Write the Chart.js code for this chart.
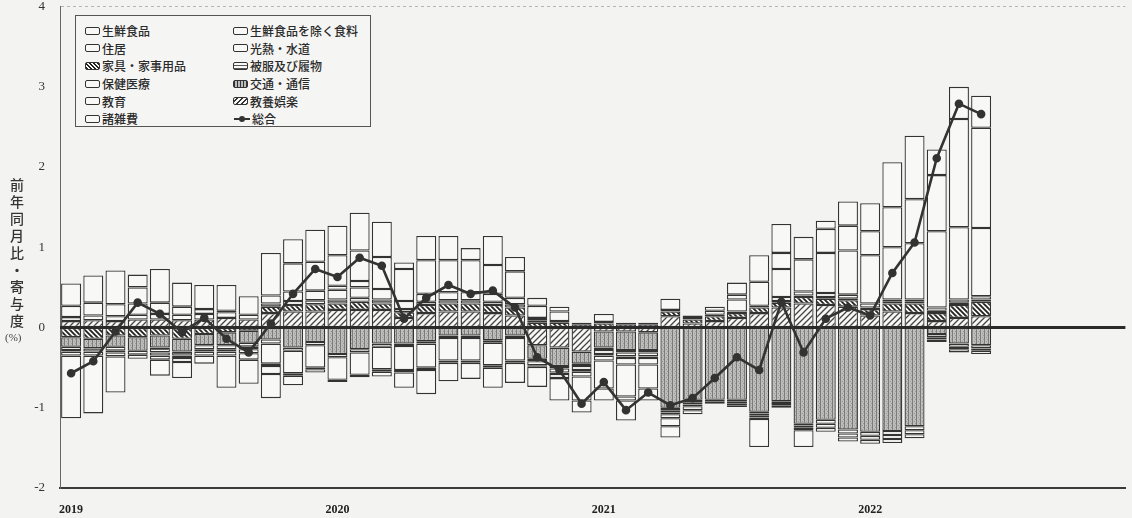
<!DOCTYPE html>
<html lang="ja">
<head>
<meta charset="UTF-8">
<title>消費者物価指数 前年同月比・寄与度</title>
<script src="https://cdn.jsdelivr.net/npm/chart.js@4"></script>
<style>
  body { margin: 0; background: #f3f3f1; }
  #wrap { position: relative; width: 1132px; height: 518px; }
  #ytitle { position: absolute; left: 7px; top: 178px; writing-mode: vertical-rl; font: 500 14px 'Noto Sans CJK JP'; letter-spacing: 3px; color: #333; }
  #yunit { position: absolute; left: 5px; top: 331px; font: 11px 'Liberation Serif'; color: #444; }
  #legend { position: absolute; left: 75px; top: 15px; width: 296px; height: 112px; border: 1px solid #555; background: #f5f5f3;
            display: grid; grid-template-columns: 148px 148px; grid-auto-rows: 17.6px; padding-top: 6px; box-sizing: border-box; }
  .item { display: flex; align-items: center; padding-left: 9px; font: 500 12px 'Noto Sans CJK JP'; color: #2a2a2a; }
  .sw { width: 13px; height: 6px; border: 1.5px solid #333; border-radius: 2px; margin-right: 2px; background: #f8f8f6; }
  .diag { background: repeating-linear-gradient(-45deg, #333 0 1.2px, #f8f8f6 1.2px 3.5px); }
  .back { background: repeating-linear-gradient(45deg, #222 0 1.6px, #f8f8f6 1.6px 3px); }
  .horiz { background: repeating-linear-gradient(0deg, #555 0 1px, #f8f8f6 1px 3px); }
  .vert { background: repeating-linear-gradient(90deg, #333 0 1px, #bbb 1px 3px); }
  .ln { width: 16px; height: 2px; background: #333; position: relative; margin-right: 2px; margin-left: 1px; }
  .ln::after { content: ''; position: absolute; left: 5px; top: -2px; width: 6px; height: 6px; border-radius: 50%; background: #333; }
</style>
</head>
<body>
<div id="wrap">
  <canvas id="c" width="1132" height="518"></canvas>
  <div id="ytitle">前年同月比・寄与度</div>
  <div id="yunit">(%)</div>
  <div id="legend">
    <div class="item"><span class="sw"></span>生鮮食品</div>
    <div class="item"><span class="sw"></span>生鮮食品を除く食料</div>
    <div class="item"><span class="sw"></span>住居</div>
    <div class="item"><span class="sw"></span>光熱・水道</div>
    <div class="item"><span class="sw back"></span>家具・家事用品</div>
    <div class="item"><span class="sw horiz"></span>被服及び履物</div>
    <div class="item"><span class="sw"></span>保健医療</div>
    <div class="item"><span class="sw vert"></span>交通・通信</div>
    <div class="item"><span class="sw"></span>教育</div>
    <div class="item"><span class="sw diag"></span>教養娯楽</div>
    <div class="item"><span class="sw"></span>諸雑費</div>
    <div class="item"><span class="ln"></span>総合</div>
  </div>
</div>
<script>
const years = ['2019', '2020', '2021', '2022'];
const yTicks = [-2, -1, 0, 1, 2, 3, 4];

// 寄与度 (2019/1 - 2022/6)
const kyoyo = [.08,.09,.08,.10,.10,.09,.10,.12,.10, .18,.20,.20,.22,.22,.22,.12,.18,.20,.20,.18,.15, -.22,-.25,-.30,-.05,-.05,-.06,.14,.05,.08,.12,.18, .25,.30,.28,.26,.15,.20,.18,.08,.12,.14];
const kagu = [-.12,-.14,-.10,-.12,-.10,-.14,-.08,-.06,-.04, .08,.08,.09,.08,.10,.08,.07,.10,.10,.10,.10,.10, .06,.06,.04,.05,.04,.04,.06,.05,.06,.06,.07, .06,.08,.08,.08,.08,.10,.12,.10,.16,.18];
const kotsu = [-.12,-.12,-.14,-.17,-.15,-.16,-.14,-.16,-.15, -.15,-.25,-.18,-.33,-.27,-.20,-.20,-.17,-.10,-.10,-.16,-.10, -.17,-.23,-.15,-.20,-.23,-.22,-1.0,-.90,-.90,-.90,-1.05, -.92,-1.20,-1.15,-1.27,-1.30,-1.29,-1.23,-.08,-.20,-.22];
const hifuku = [-.04,-.04,-.05,-.05,-.06,-.05,-.05,-.05,-.05, .04,.05,.05,.05,.05,.05,.04,.04,.04,.04,.04,.04, .03,.02,.02,.02,.02,.02,.02,.02,.02,.02,.02, .02,.02,.02,.02,.02,.02,.02,.03,.03,.03];
const hoken = [-.02,0,-.02,0,-.04,-.03,-.03,-.03,-.03, -.05,-.04,-.04,-.04,-.04,-.04,-.03,-.03,-.03,-.03,-.03,-.03, -.03,-.03,-.03,-.03,-.03,-.03,-.03,-.03,-.02,-.02,-.02, -.02,-.02,-.05,-.05,-.05,-.05,-.05,-.04,-.04,-.04];
const kyoiku = [0,0,0,0,0,0,0,0,0, -.25,-.28,-.28,-.28,-.28,-.28,-.30,-.30,-.28,-.28,-.28,-.28, -.05,-.05,-.05,-.05,-.05,-.05,-.03,-.03,-.03,-.03,-.03, -.03,-.03,-.05,-.05,-.05,-.05,-.05,-.03,-.03,-.03];
const jukyo = [-.05,-.05,-.05,-.05,-.05,-.05,-.05,-.05,-.05, -.03,-.03,-.02,-.03,-.03,-.03,-.03,-.03,-.03,-.03,-.03,-.03, -.02,-.02,-.02,-.02,-.02,-.02,-.02,-.02,0,-.02,-.02, -.03,-.03,-.05,-.05,-.05,-.05,-.05,-.03,-.04,-.04];
const shozappi = [.05,.06,.06,.06,.07,.07,.07,.07,.06, .10,.12,.12,.12,.13,.13,.10,.10,.10,.10,.10,.08, .03,-.05,-.06,-.06,-.08,-.08,-.05,-.05,0,-.02,-.02, .05,.05,.05,.05,.05,.03,.03,.04,.04,.04];
const konetsu = [.14,.16,.15,.14,.14,.10,.06,.02,-.08, -.10,-.12,-.04,.05,.08,-.06,-.19,-.30,-.23,-.20,-.25,-.25, -.25,-.28,-.30,-.35,-.40,-.30,-.10,-.05,0,.15,.30, .35,.40,.50,.55,.60,.65,.70,.95,.90,.85];
const shokuryo = [.28,.34,.42,.20,.42,.30,.30,.32,.23, .53,.35,.36,.38,.38,.40,.40,.42,.40,.40,.36,.33, .15,.12,0,.10,-.05,0,.14,.03,.05,.06,.33, .20,.28,.30,.31,.30,.50,.55,.70,1.35,1.25];
const seisen = [-.78,-.72,-.45,.16,-.20,-.20,-.10,-.40,-.30, -.30,.30,.40,.37,.47,.44,.08,.30,.30,.15,.36,.18, .10,.06,-.15,-.15,-.25,-.15,-.14,0,.05,.15,-.35, .36,-.21,.10,.30,.35,.56,.79,.32,.40,.40];
const sogo = [-0.57,-0.42,-0.05,0.31,0.17,-0.06,0.12,-0.14,-0.31, 0.05,0.42,0.73,0.63,0.87,0.77,0.11,0.37,0.53,0.42,0.46,0.25, -0.37,-0.53,-0.95,-0.68,-1.03,-0.81,-0.97,-0.88,-0.63,-0.37,-0.53, 0.32,-0.31,0.11,0.25,0.15,0.68,1.06,2.11,2.79,2.66];

const INK = '#333';
const FILL = '#f8f8f6';

// 48 months on the axis, data only to 2022/6
const months = [];
years.forEach(y => { for (let m = 1; m <= 12; m++) months.push(y + '/' + m); });

const canvas = document.getElementById('c');
const ctx = canvas.getContext('2d');

function tile(size, bg, draw) {
  const t = document.createElement('canvas');
  t.width = t.height = size;
  const g = t.getContext('2d');
  g.fillStyle = bg;
  g.fillRect(0, 0, size, size);
  draw(g, size);
  return ctx.createPattern(t, 'repeat');
}

const patDiag = tile(6, FILL, (g, s) => {
  g.strokeStyle = '#444'; g.lineWidth = 1.3;
  g.beginPath();
  g.moveTo(0, s); g.lineTo(s, 0);
  g.moveTo(-1, 1); g.lineTo(1, -1);
  g.moveTo(s - 1, s + 1); g.lineTo(s + 1, s - 1);
  g.stroke();
});
const patBack = tile(5, FILL, (g, s) => {
  g.strokeStyle = '#222'; g.lineWidth = 1.8;
  g.beginPath();
  g.moveTo(0, 0); g.lineTo(s, s);
  g.moveTo(-1, s - 1); g.lineTo(1, s + 1);
  g.moveTo(s - 1, -1); g.lineTo(s + 1, 1);
  g.stroke();
});
const patHoriz = tile(4, FILL, (g, s) => {
  g.fillStyle = '#666';
  g.fillRect(0, 1, s, 1);
});
const patVert = tile(4, '#bdbdbb', (g, s) => {
  g.fillStyle = '#7c7c7a';
  g.fillRect(0, 0, 1, s);
  g.fillStyle = '#999997';
  g.fillRect(2, 1, 1, 1);
  g.fillRect(3, 3, 1, 1);
});

function barSet(label, data, bg) {
  return {
    type: 'bar', label, data, stack: 'cpi', order: 1,
    backgroundColor: bg, borderColor: INK, borderWidth: 1.3, borderSkipped: false,
    barPercentage: 0.9, categoryPercentage: 1.0
  };
}

const zeroLine = {
  id: 'zeroLine',
  beforeDatasetDraw(chart, args) {
    if (args.index !== 11) return;
    const y = chart.scales.y.getPixelForValue(0);
    const c = chart.ctx;
    c.save();
    c.strokeStyle = '#2a2a2a';
    c.lineWidth = 3;
    c.beginPath();
    c.moveTo(chart.chartArea.left, y);
    c.lineTo(chart.chartArea.right, y);
    c.stroke();
    c.restore();
  }
};

new Chart(ctx, {
  data: {
    labels: months,
    datasets: [
      barSet('教養娯楽', kyoyo, patDiag),
      barSet('家具・家事用品', kagu, patBack),
      barSet('交通・通信', kotsu, patVert),
      barSet('被服及び履物', hifuku, patHoriz),
      barSet('保健医療', hoken, FILL),
      barSet('教育', kyoiku, FILL),
      barSet('住居', jukyo, FILL),
      barSet('諸雑費', shozappi, FILL),
      barSet('光熱・水道', konetsu, FILL),
      barSet('生鮮食品を除く食料', shokuryo, FILL),
      barSet('生鮮食品', seisen, FILL),
      {
        type: 'line', label: '総合', data: sogo, stack: 'total', order: 0,
        borderColor: INK, borderWidth: 2.6, tension: 0,
        pointRadius: 3, pointBackgroundColor: INK, pointBorderColor: INK
      }
    ]
  },
  options: {
    responsive: false,
    animation: false,
    layout: { padding: { top: 5, left: 0, right: 0, bottom: 0 } },
    plugins: { legend: { display: false }, tooltip: { enabled: false } },
    scales: {
      x: {
        stacked: true,
        afterFit: s => { s.height = 30; s.paddingLeft = 0; s.paddingRight = 0; },
        grid: { display: false },
        border: { display: true, color: '#3a3a3a', width: 2 },
        ticks: {
          autoSkip: false, maxRotation: 0, padding: 7,
          color: '#222', font: { family: 'Liberation Serif', size: 12, weight: 'bold' },
          callback: (v, i) => (i % 12 === 0 ? years[i / 12] : '')
        }
      },
      y: {
        stacked: true,
        min: yTicks[0], max: yTicks[yTicks.length - 1],
        afterFit: s => { s.width = 60; s.paddingTop = 0; s.paddingBottom = 0; },
        afterBuildTicks: s => { s.ticks = yTicks.map(v => ({ value: v })); },
        grid: {
          drawTicks: false,
          color: c => (c.tick && c.tick.value === 4 ? '#b5b5b3' : 'transparent'),
          lineWidth: 1
        },
        border: { display: true, color: '#666', width: 1, dash: [3, 3] },
        ticks: {
          padding: 15, color: '#333',
          font: { family: 'Liberation Serif', size: 13 }
        }
      }
    }
  },
  plugins: [zeroLine]
});
</script>
</body>
</html>
